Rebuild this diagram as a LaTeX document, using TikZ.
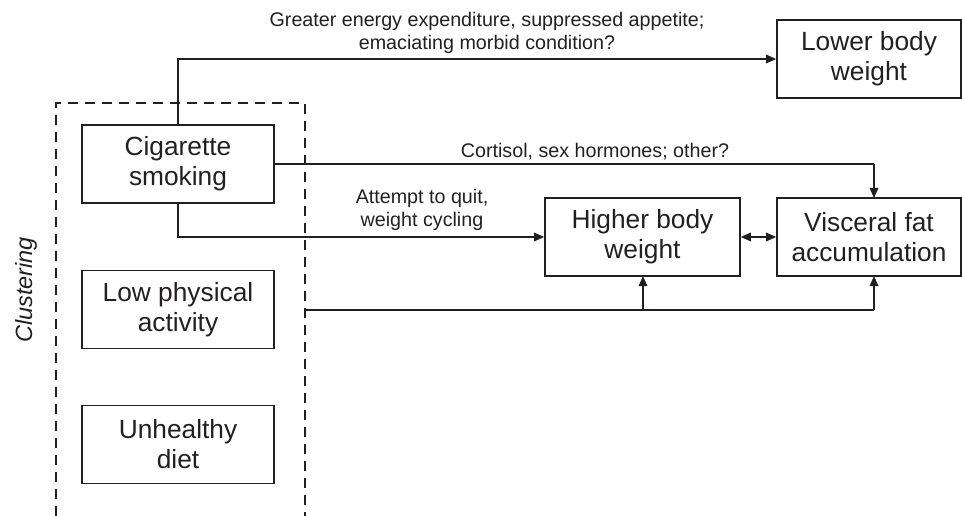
\documentclass[tikz,border=0pt]{standalone}
\usepackage{fontspec}
\setmainfont{Liberation Sans}
\usetikzlibrary{arrows.meta}
\definecolor{ink}{RGB}{35,31,32}
\begin{document}
\begin{tikzpicture}[x=1pt,y=-1pt,
  every path/.style={line width=1.6pt},
  box/.style={draw=ink, line width=1.6pt, inner sep=0pt, align=center, text=ink,
     font=\fontsize{26.3}{30}\selectfont},
  lbl/.style={inner sep=0pt, align=center, text=ink, font=\fontsize{19.7}{22.5}\selectfont},
  arr/.style={draw=ink, line width=1.6pt, -{Triangle[length=10pt,width=8.5pt]}},
  darr/.style={draw=ink, line width=1.6pt, {Triangle[length=10pt,width=8.5pt]}-{Triangle[length=10pt,width=8.5pt]}},
  ln/.style={draw=ink, line width=1.6pt},
  clus/.style={draw=ink, line width=1.6pt, dash pattern=on 10pt off 7pt}
]
\useasboundingbox (0,0) rectangle (962,516);

% cluster boundary (open at bottom)
\coordinate (cbl) at (56,516);
\coordinate (ctl) at (56,103);
\coordinate (ctr) at (305,103);
\coordinate (cbr) at (305,516);
\draw[clus] (cbl) -- (ctl) -- (ctr) -- (cbr);

\node[lbl, rotate=90, font=\fontsize{23.5}{27}\selectfont\itshape] (clustering) at (26,290) {Clustering};

% boxes
\node[box, minimum width=192pt, minimum height=78pt] (cig) at (178,164) {Cigarette\\smoking};
\node[box, minimum width=192pt, minimum height=78pt] (low) at (178,309.5) {Low physical\\activity};
\node[box, minimum width=192pt, minimum height=78pt] (diet) at (178,444.5) {Unhealthy\\diet};
\node[box, minimum width=184pt, minimum height=78pt] (lower) at (869,59) {Lower body\\weight};
\node[box, minimum width=195pt, minimum height=78pt] (higher) at (642.5,237) {Higher body\\weight};
\node[box, minimum width=184pt, minimum height=78pt] (visc) at (869,237) {Visceral fat\\accumulation};

% connectors
\coordinate (topcorner) at (178,59);
\draw[arr] (cig.north) -- (topcorner) -- (lower.west);

\coordinate (cortcorner) at (874,164);
\coordinate (viscin) at (874,198);
\draw[ln] (cig.east) -- (cortcorner);
\draw[arr] (cortcorner) -- (viscin);

\coordinate (quitcorner) at (178,237);
\draw[arr] (cig.south) -- (quitcorner) -- (higher.west);

\draw[darr] (higher.east) -- (visc.west);

\coordinate (bstart) at (305,310);
\coordinate (bmid) at (643,310);
\coordinate (bend) at (874,310);
\coordinate (hin) at (643,276);
\coordinate (vin) at (874,276);
\draw[ln] (bstart) -- (bend);
\draw[arr] (bmid) -- (hin);
\draw[arr] (bend) -- (vin);

% labels
\node[lbl, anchor=south] (l1) at (487,54) {Greater energy expenditure, suppressed appetite;\\emaciating morbid condition?};
\node[lbl, anchor=south] (l2) at (595,161) {Cortisol, sex hormones; other?};
\node[lbl, anchor=south] (l3) at (422,231) {Attempt to quit,\\weight cycling};
\end{tikzpicture}
\end{document}
